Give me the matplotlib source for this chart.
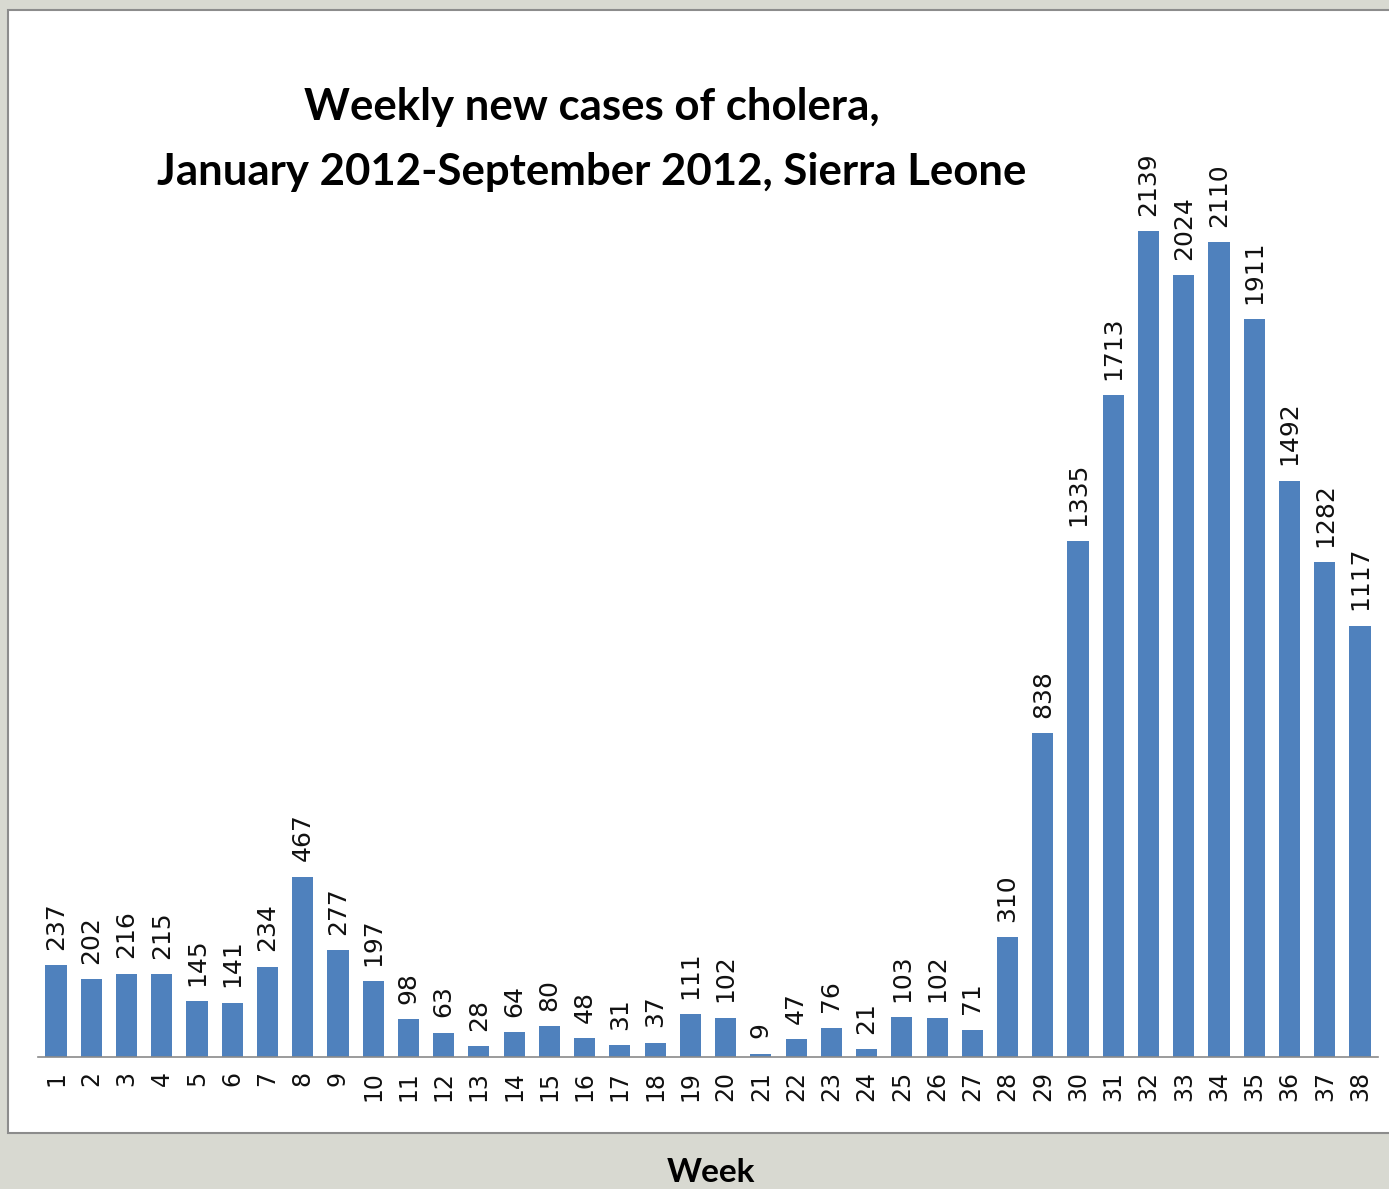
import numpy as np
import matplotlib
matplotlib.use("Agg")
from matplotlib import pyplot as plt
from matplotlib.patches import Rectangle

weeks = list(range(1, 39))
cases = [237, 202, 216, 215, 145, 141, 234, 467, 277, 197,
         98, 63, 28, 64, 80, 48, 31, 37, 111, 102,
         9, 47, 76, 21, 103, 102, 71, 310, 838, 1335,
         1713, 2139, 2024, 2110, 1911, 1492, 1282, 1117]
title_lines = ["Weekly new cases of cholera,",
               "January 2012-September 2012, Sierra Leone"]

W, H = 1389, 1189
fig = plt.figure(figsize=(W / 100, H / 100), dpi=100, facecolor="#d8d9d1")

# white slide panel behind the chart
panel = Rectangle((8 / W, (H - 1133) / H), 1.1, (1133 - 10) / H,
                  transform=fig.transFigure, facecolor="white",
                  edgecolor="#8c8c8c", linewidth=1.5, zorder=-1)
fig.patches.append(panel)

ax = fig.add_axes([38 / W, (H - 1057) / H, (1378 - 38) / W, (1057 - 130) / H])
ax.set_zorder(2)
ax.set_facecolor("none")
bars = ax.bar(weeks, cases, width=0.6, color="#4f81bd", zorder=2)
ax.set_xlim(0.49, 38.51)
ax.set_ylim(0, 2400)

for x, v in zip(weeks, cases):
    ax.annotate(str(v), (x, v), xytext=(0, 11), textcoords="offset points",
                rotation=90, ha="center", va="bottom", fontsize=18,
                family="DejaVu Sans", color="#111111")

ax.set_xticks(weeks)
ax.set_xticklabels([str(w) for w in weeks], rotation=90, fontsize=17,
                   family="DejaVu Sans", color="#111111")
ax.tick_params(axis="x", length=0, pad=10)
ax.set_yticks([])
for s in ["left", "right", "top"]:
    ax.spines[s].set_visible(False)
ax.spines["bottom"].set_color("#8a8a8a")
ax.spines["bottom"].set_linewidth(1.2)

fig.text(592 / W, 1 - 107 / H, title_lines[0], ha="center", va="center",
         fontsize=31.5, fontweight="bold", family="Lato")
fig.text(592 / W, 1 - 172 / H, title_lines[1], ha="center", va="center",
         fontsize=31.5, fontweight="bold", family="Lato")
fig.text(711 / W, 1 - 1172 / H, "Week", ha="center", va="center",
         fontsize=24, fontweight="bold", family="Lato")

fig.savefig("out.png", dpi=100, facecolor=fig.get_facecolor())
